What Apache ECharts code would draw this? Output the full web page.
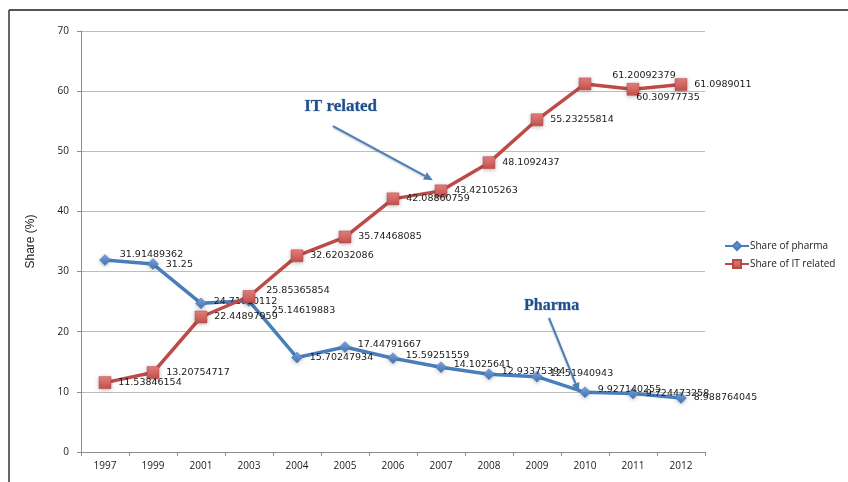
<!DOCTYPE html>
<html>
<head>
<meta charset="utf-8">
<script src="https://cdn.jsdelivr.net/npm/echarts@6/dist/echarts.min.js"></script>
<style>
  html, body { margin: 0; padding: 0; background: #ffffff; }
  #chart { width: 848px; height: 482px; }
</style>
</head>
<body>
<div id="chart"></div>
<script>
// Years on the category axis
const years = ['1997', '1999', '2001', '2003', '2004', '2005', '2006', '2007', '2008', '2009', '2010', '2011', '2012'];

// Share of pharma (%)
const pharmaShare = [31.91489362, 31.25, 24.71910112, 25.14619883, 15.70247934, 17.44791667, 15.59251559,
  14.1025641, 12.93375394, 12.51940943, 9.927140255, 9.724473258, 8.988764045];

// Share of IT related (%)
const itShare = [11.53846154, 13.20754717, 22.44897959, 25.85365854, 32.62032086, 35.74468085, 42.08860759,
  43.42105263, 48.1092437, 55.23255814, 61.20092379, 60.30977735, 61.0989011];

// Value axis ticks
const yTicks = [0, 10, 20, 30, 40, 50, 60, 70];

// Callouts: text plus arrow start/end in data space [category position, value]
const callouts = [
  { text: 'IT related', at: [4.15, 57.4], from: [4.75, 54.2], to: [6.83, 45.2], size: 17 },
  { text: 'Pharma', at: [8.73, 24.3], from: [9.25, 22.3], to: [9.875, 10.0], size: 16 }
];

const labelFont = { fontFamily: 'DejaVu Sans', fontSize: 9.5, color: '#1a1a1a' };

function valueLabel(v) { return String(v); }

const pharmaData = pharmaShare.map((v, i) => {
  const d = { value: v };
  if (i === 0) d.label = { offset: [2, -6] };
  if (i === 2) d.label = { offset: [0, -2] };
  if (i === 3) d.label = { offset: [10, 10] };
  if (i >= 5 && i <= 10) d.label = { offset: [0, -3] };
  return d;
});
const itData = itShare.map((v, i) => {
  const d = { value: v };
  if (i === 3) d.label = { offset: [4, -6] };
  if (i === 10) d.label = { offset: [14, -8] };
  if (i === 11) d.label = { offset: [-10, 8] };
  return d;
});

const chart = echarts.init(document.getElementById('chart'), null, { renderer: 'canvas' });

const option = {
  backgroundColor: '#ffffff',
  animation: false,
  grid: { left: 81, right: 143, top: 31, bottom: 30, containLabel: false },
  legend: {
    orient: 'vertical',
    left: 719,
    top: 236,
    itemGap: 8,
    itemWidth: 24,
    itemHeight: 10,
    textStyle: { fontFamily: 'Open Sans', fontSize: 10, color: '#1a1a1a', padding: [0, 0, 0, -4] },
    data: ['Share of pharma', 'Share of IT related']
  },
  xAxis: {
    type: 'category',
    data: years,
    boundaryGap: true,
    axisLine: { lineStyle: { color: '#8c8c8c', width: 1 } },
    axisTick: { show: true, length: 4, lineStyle: { color: '#8c8c8c' } },
    axisLabel: { fontFamily: 'Open Sans', fontSize: 10, color: '#1a1a1a', margin: 9 }
  },
  yAxis: {
    type: 'value',
    min: yTicks[0],
    max: yTicks[yTicks.length - 1],
    interval: 10,
    name: 'Share (%)',
    nameLocation: 'middle',
    nameGap: 44,
    nameRotate: 90,
    nameTextStyle: { fontFamily: 'Liberation Sans', fontSize: 12, color: '#1a1a1a' },
    axisLine: { show: true, lineStyle: { color: '#8c8c8c', width: 1 } },
    axisTick: { show: true, length: 4, lineStyle: { color: '#8c8c8c' } },
    axisLabel: { fontFamily: 'Open Sans', fontSize: 10, color: '#1a1a1a', margin: 12 },
    splitLine: { lineStyle: { color: '#bdbdbd', width: 1 } }
  },
  series: [
    {
      name: 'Share of pharma',
      type: 'line',
      data: pharmaData,
      symbol: 'diamond',
      symbolSize: 11,
      z: 3,
      lineStyle: { color: '#4a7ebb', width: 3.5 },
      itemStyle: {
        color: new echarts.graphic.LinearGradient(0, 0, 0, 1, [
          { offset: 0, color: '#7da6dc' },
          { offset: 1, color: '#3e73b5' }
        ]),
        borderColor: '#4a7ebb',
        borderWidth: 0.5,
        shadowColor: 'rgba(0,0,0,0.25)',
        shadowBlur: 4,
        shadowOffsetY: 1
      },
      label: {
        show: true,
        position: 'right',
        distance: 7,
        formatter: p => valueLabel(p.value),
        ...labelFont
      }
    },
    {
      name: 'Share of IT related',
      type: 'line',
      data: itData,
      symbol: 'rect',
      symbolSize: 12,
      z: 4,
      lineStyle: { color: '#be4b48', width: 3.5 },
      itemStyle: {
        color: new echarts.graphic.LinearGradient(0, 0, 0, 1, [
          { offset: 0, color: '#e8807d' },
          { offset: 1, color: '#c0504d' }
        ]),
        borderColor: '#b84845',
        borderWidth: 0.5,
        shadowColor: 'rgba(0,0,0,0.25)',
        shadowBlur: 4,
        shadowOffsetY: 1
      },
      label: {
        show: true,
        position: 'right',
        distance: 7,
        formatter: p => valueLabel(p.value),
        ...labelFont
      }
    }
  ]
};

chart.setOption(option);

// Category axis positions snap to whole indices, so fractional positions
// are interpolated between neighbouring categories.
function toPixel(pt) {
  const i0 = Math.floor(pt[0]);
  const i1 = Math.min(i0 + 1, years.length - 1);
  const p0 = chart.convertToPixel({ gridIndex: 0 }, [i0, pt[1]]);
  const p1 = chart.convertToPixel({ gridIndex: 0 }, [i1, pt[1]]);
  const f = pt[0] - i0;
  const step = i1 > i0 ? (p1[0] - p0[0]) : 0;
  return [p0[0] + step * f, p0[1]];
}

// Frame lines along the top and left edges
const frame = [
  { type: 'line', shape: { x1: 9, y1: 10, x2: 848, y2: 10 }, style: { stroke: '#555555', lineWidth: 2 } },
  { type: 'line', shape: { x1: 9, y1: 10, x2: 9, y2: 482 }, style: { stroke: '#333333', lineWidth: 1.5 } }
];

// Callout texts and arrows
const calloutGraphics = [];
callouts.forEach(c => {
  const t = toPixel(c.at);
  const a = toPixel(c.from);
  const b = toPixel(c.to);
  calloutGraphics.push({
    type: 'text',
    x: t[0], y: t[1],
    z: 10,
    style: {
      text: c.text,
      fontFamily: 'Liberation Serif',
      fontWeight: 'bold',
      fontSize: c.size,
      fill: '#1f4e8c',
      stroke: '#9fb6d6',
      lineWidth: 0.6,
      textAlign: 'left',
      textVerticalAlign: 'middle',
      shadowColor: 'rgba(0,0,0,0.3)',
      shadowBlur: 2,
      shadowOffsetX: 1,
      shadowOffsetY: 1
    }
  });
  const ang = Math.atan2(b[1] - a[1], b[0] - a[0]);
  const hl = 9, hw = 4;
  const bx = b[0] - hl * Math.cos(ang), by = b[1] - hl * Math.sin(ang);
  calloutGraphics.push({
    type: 'line',
    z: 10,
    shape: { x1: a[0], y1: a[1], x2: bx, y2: by },
    style: { stroke: '#4a7ebb', lineWidth: 2, shadowColor: 'rgba(0,0,0,0.25)', shadowBlur: 2, shadowOffsetY: 1 }
  });
  calloutGraphics.push({
    type: 'polygon',
    z: 10,
    shape: {
      points: [
        [b[0], b[1]],
        [bx - hw * Math.sin(ang), by + hw * Math.cos(ang)],
        [bx + hw * Math.sin(ang), by - hw * Math.cos(ang)]
      ]
    },
    style: { fill: '#4a7ebb' }
  });
});

chart.setOption({ graphic: frame.concat(calloutGraphics) });
</script>
</body>
</html>
